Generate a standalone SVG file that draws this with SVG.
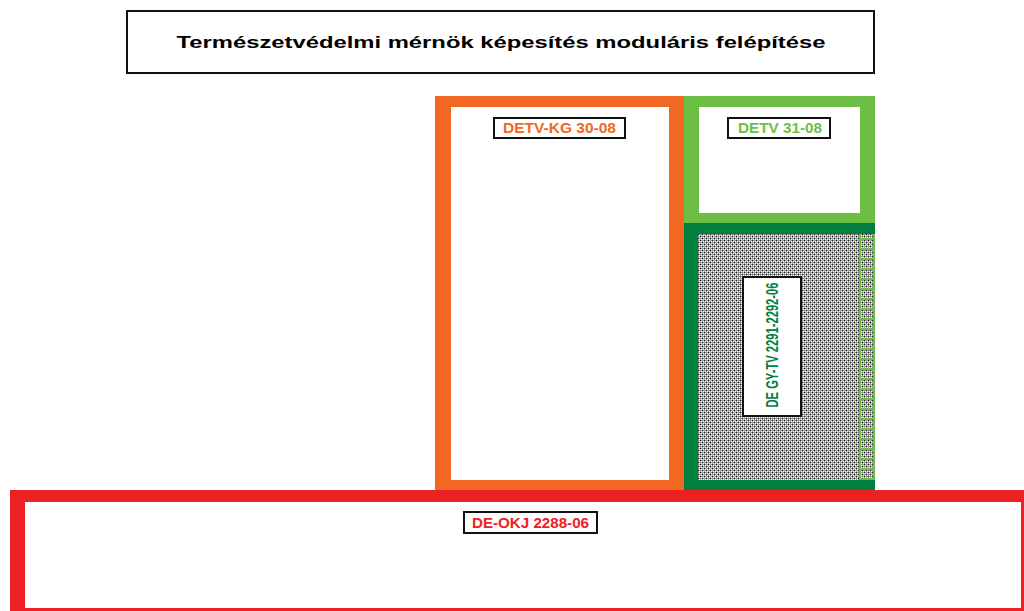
<svg xmlns="http://www.w3.org/2000/svg" width="1024" height="611" viewBox="0 0 1024 611">
<style>
.lbl{fill:#fff;stroke:#111;stroke-width:2}
.t{font-family:"Liberation Sans",Arial,sans-serif;font-weight:bold;text-anchor:middle}
</style>
<defs>
<pattern id="dots" width="4" height="4" patternUnits="userSpaceOnUse">
<rect width="4" height="4" fill="#9a9a9a"/>
<rect x="0" y="0" width="1" height="1" fill="#222"/>
<rect x="2" y="2" width="1" height="1" fill="#222"/>
<rect x="1" y="1" width="1" height="1" fill="#fff"/>
<rect x="3" y="3" width="1" height="1" fill="#fff"/>
<rect x="1" y="3" width="1" height="1" fill="#fff"/>
<rect x="3" y="1" width="1" height="1" fill="#fff"/>
</pattern>
<pattern id="ladder" x="0" y="234" width="16" height="10" patternUnits="userSpaceOnUse">
<rect x="0" y="4" width="16" height="2" fill="#6dbe45"/>
</pattern>
</defs>
<rect width="1024" height="611" fill="#fff"/>
<g id="title">
<rect x="127" y="11" width="747" height="62" fill="#fff" stroke="#111" stroke-width="2"/>
<text class="t" x="501" y="48" font-size="17" fill="#000" textLength="649" lengthAdjust="spacingAndGlyphs">Természetvédelmi mérnök képesítés moduláris felépítése</text>
</g>
<g id="detv-kg">
<rect x="435" y="96" width="249" height="394" fill="#f26722"/>
<rect x="451" y="107" width="218" height="373" fill="#fff"/>
<rect class="lbl" x="494" y="118" width="131" height="20"/>
<text class="t" x="559.5" y="133" font-size="14" fill="#f26722" textLength="113" lengthAdjust="spacingAndGlyphs">DETV-KG 30-08</text>
</g>
<g id="detv">
<rect x="684" y="96" width="191" height="127" fill="#6dbe45"/>
<rect x="699" y="107" width="161" height="106" fill="#fff"/>
<rect class="lbl" x="728" y="118" width="102" height="20"/>
<text class="t" x="780" y="133" font-size="14" fill="#6dbe45" textLength="84" lengthAdjust="spacingAndGlyphs">DETV 31-08</text>
</g>
<g id="degy-tv">
<rect x="684" y="223" width="191" height="267" fill="#007f3e"/>
<rect x="698" y="234" width="177" height="246" fill="url(#dots)"/>
<rect x="859" y="234" width="16" height="246" fill="url(#ladder)"/>
<line x1="860" y1="234" x2="860" y2="480" stroke="#6dbe45" stroke-width="2"/>
<line x1="874" y1="234" x2="874" y2="480" stroke="#6dbe45" stroke-width="2"/>
<rect class="lbl" x="743" y="277" width="58" height="139"/>
<text class="t" transform="translate(778 345) rotate(-90)" x="0" y="0" font-size="17" fill="#007f3e" textLength="125" lengthAdjust="spacingAndGlyphs">DE GY-TV 2291-2292-06</text>
</g>
<g id="de-okj">
<rect x="10" y="490" width="1014" height="121" fill="#ed2024"/>
<rect x="25" y="502" width="996" height="106" fill="#fff"/>
<rect class="lbl" x="464" y="512" width="133" height="21"/>
<text class="t" x="530.5" y="528" font-size="14.5" fill="#ed2024" textLength="117" lengthAdjust="spacingAndGlyphs">DE-OKJ 2288-06</text>
</g>
<g id="connectors"/>
</svg>
